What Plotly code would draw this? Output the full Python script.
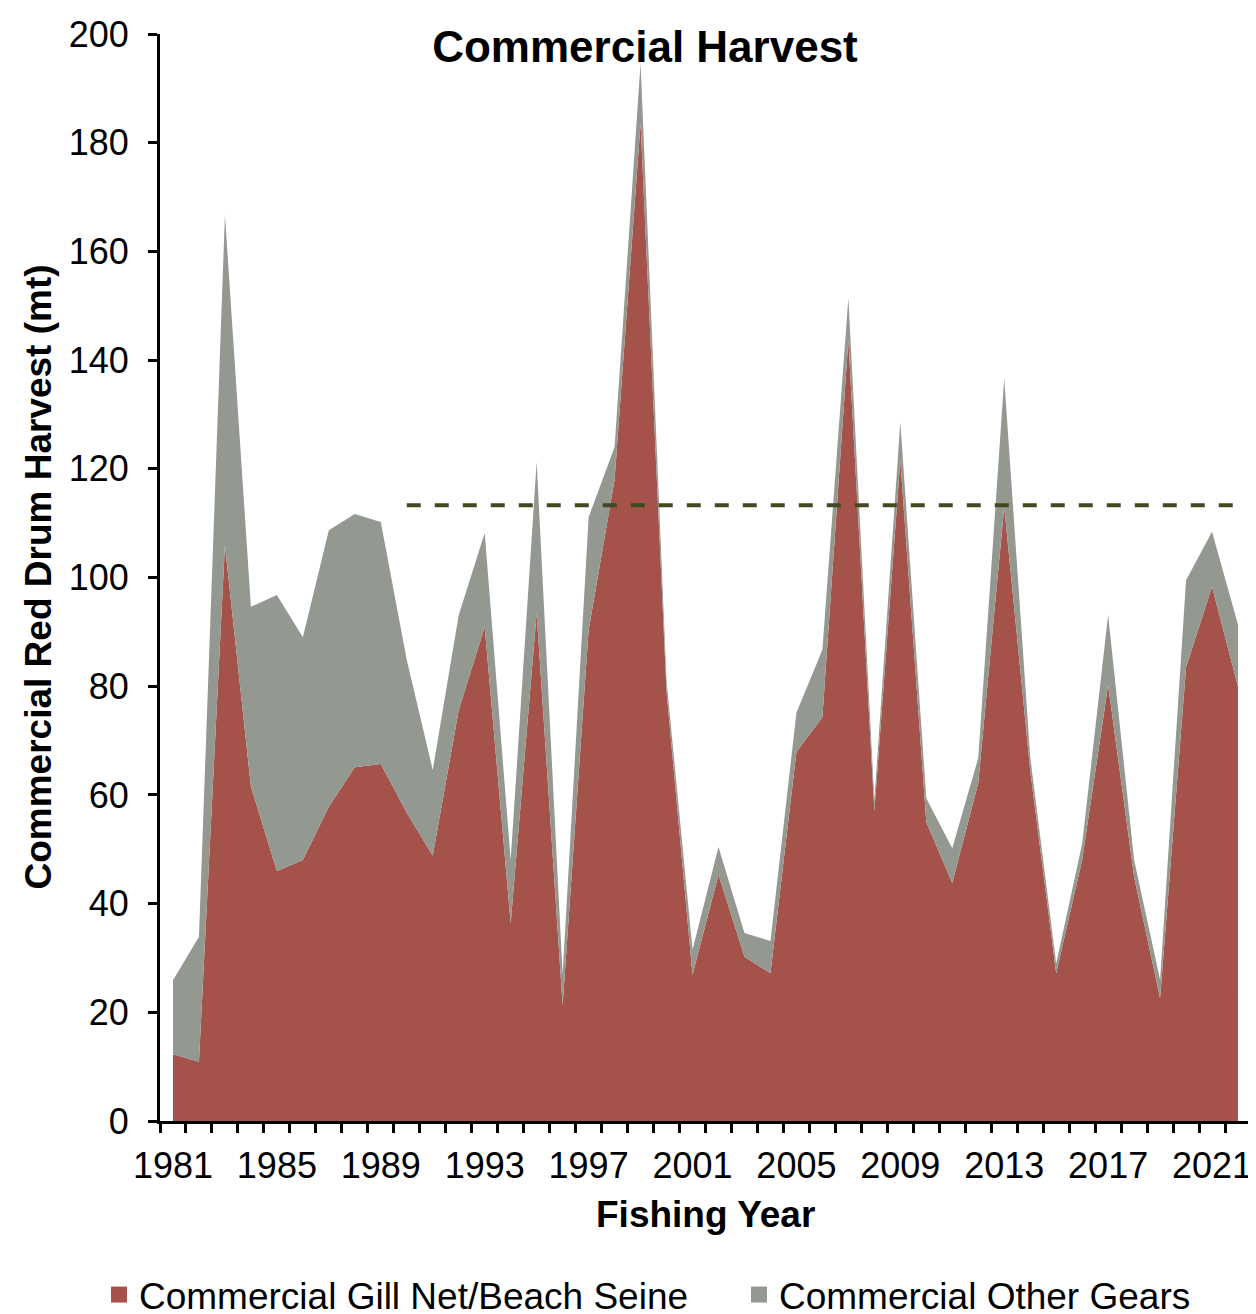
import plotly.graph_objects as go

years = list(range(1981, 2023))
gill_net = [12.3, 10.9, 106.0, 61.5, 46.0, 48.0, 57.8, 65.1, 65.7, 56.7,
            48.8, 75.6, 90.9, 36.4, 93.4, 21.3, 90.3, 118.0, 183.6, 79.0,
            26.9, 45.3, 30.2, 27.2, 67.9, 74.3, 143.7, 57.0, 121.6, 55.0,
            43.8, 62.2, 113.0, 64.5, 27.2, 48.0, 80.2, 44.9, 22.6, 83.5,
            98.3, 79.9]
other_gears = [13.6, 23.0, 60.7, 33.1, 50.8, 41.0, 50.9, 46.6, 44.5, 28.1,
               15.8, 17.5, 17.3, 11.6, 27.9, 5.7, 20.8, 6.0, 11.0, 2.0,
               4.6, 5.1, 4.4, 5.9, 7.2, 12.4, 7.7, 2.0, 7.0, 4.4,
               6.4, 4.6, 23.6, 2.5, 1.8, 3.0, 12.9, 3.1, 3.4, 16.0,
               10.1, 11.4]
ref_years = [1990, 2022]
ref_level = [113.3, 113.3]
label_years = list(range(1981, 2022, 4))

red = "#A5524A"
grey = "#939890"
olive = "#404A20"
font = "Liberation Sans, Arial, sans-serif"

# the page body has an 8px margin, so the figure is 8px smaller and shifted
W, H = 1248, 1306

fig = go.Figure()
fig.add_trace(go.Scatter(x=years, y=gill_net, stackgroup="one", mode="none",
                         fillcolor=red, showlegend=False, hoverinfo="skip"))
fig.add_trace(go.Scatter(x=years, y=other_gears, stackgroup="one", mode="none",
                         fillcolor=grey, showlegend=False, hoverinfo="skip"))
fig.add_trace(go.Scatter(x=ref_years, y=ref_level, mode="lines",
                         line=dict(color=olive, width=4, dash="14px,14px"),
                         showlegend=False, hoverinfo="skip"))

# legend-only entries (one legend each) so the swatches are squares
fig.add_trace(go.Scatter(x=[None], y=[None], mode="markers", name="Commercial Gill Net/Beach Seine",
                         marker=dict(symbol="square", size=18, color=red), legend="legend"))
fig.add_trace(go.Scatter(x=[None], y=[None], mode="markers", name="Commercial Other Gears",
                         marker=dict(symbol="square", size=18, color=grey), legend="legend2"))

leg = dict(orientation="h", xref="container", yref="container", xanchor="left",
           y=1 - 1287 / H, yanchor="middle", font=dict(size=37),
           itemsizing="trace", bgcolor="rgba(0,0,0,0)")

fig.update_layout(
    width=W, height=H,
    margin=dict(l=152, r=5, t=26, b=193, autoexpand=False),
    paper_bgcolor="white", plot_bgcolor="white",
    font=dict(family=font, size=36, color="black"),
    title=dict(text="<b>Commercial Harvest</b>", font=dict(size=44),
               x=637 / W, xanchor="center", xref="container",
               y=1 - 39 / H, yanchor="middle", yref="container"),
    legend=dict(leg, x=91 / W),
    legend2=dict(leg, x=731 / W),
)

fig.add_annotation(text="<b>Fishing Year</b>", xref="paper", yref="paper",
                   x=0.5, y=-93 / 1087, xanchor="center", yanchor="middle",
                   showarrow=False, font=dict(size=37))
fig.add_annotation(text="<b>Commercial Red Drum Harvest (mt)</b>", xref="paper", yref="paper",
                   x=-122 / 1091, y=0.5, xanchor="center", yanchor="middle", textangle=-90,
                   showarrow=False, font=dict(size=37))

fig.update_xaxes(range=[1980.5, 2022.5], tickvals=label_years,
                 showline=True, linecolor="black", linewidth=3,
                 ticks="outside", ticklen=0, tickcolor="black",
                 ticklabelstandoff=11, automargin=False,
                 minor=dict(ticks="outside", ticklen=9, tickwidth=3, tickcolor="black",
                            tick0=1980.5, dtick=1, showgrid=False),
                 showgrid=False, zeroline=False)
fig.update_yaxes(range=[0, 200], tickvals=list(range(0, 201, 20)),
                 showline=True, linecolor="black", linewidth=3,
                 ticks="outside", ticklen=9, tickwidth=3, tickcolor="black",
                 ticklabelstandoff=12, automargin=False,
                 showgrid=False, zeroline=False)

fig.write_html("out.html")
